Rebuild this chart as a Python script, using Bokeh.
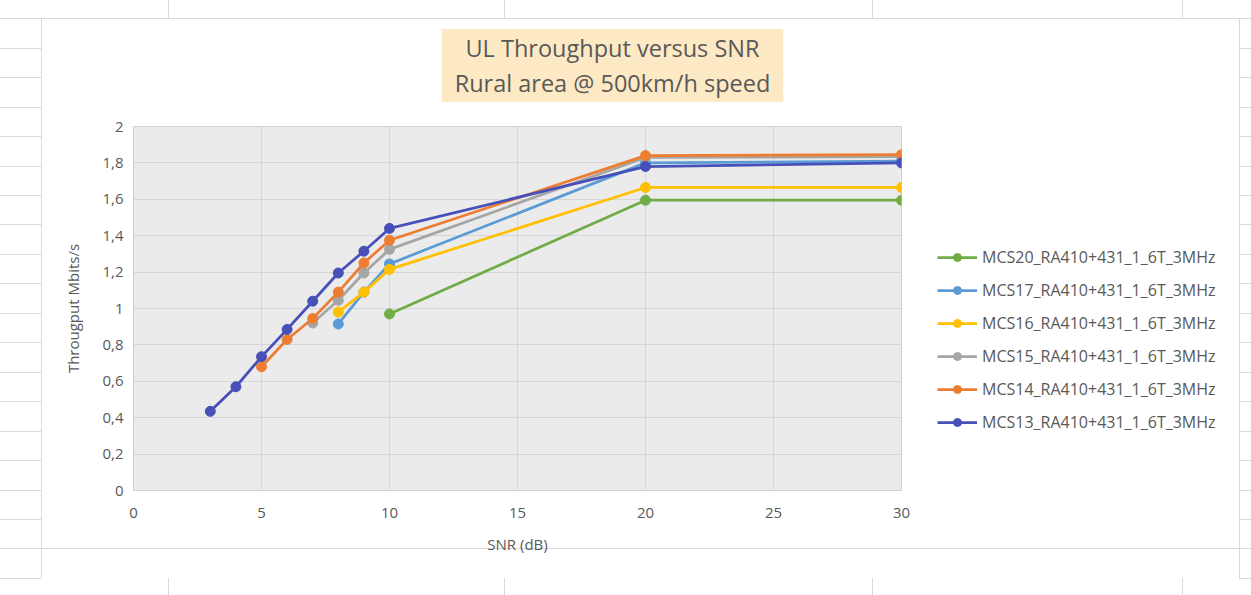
from bokeh.plotting import figure
from bokeh.layouts import row
from bokeh.models import Legend, LegendItem, Label, FixedTicker, Range1d
from bokeh.embed import file_html
from bokeh.resources import INLINE

# ---------------- data ----------------
series_names = [
    "MCS20_RA410+431_1_6T_3MHz",
    "MCS17_RA410+431_1_6T_3MHz",
    "MCS16_RA410+431_1_6T_3MHz",
    "MCS15_RA410+431_1_6T_3MHz",
    "MCS14_RA410+431_1_6T_3MHz",
    "MCS13_RA410+431_1_6T_3MHz",
]
snr_mcs20 = [10, 20, 30]
tp_mcs20 = [0.97, 1.595, 1.595]
snr_mcs17 = [8, 9, 10, 20, 30]
tp_mcs17 = [0.915, 1.09, 1.245, 1.80, 1.81]
snr_mcs16 = [8, 9, 10, 20, 30]
tp_mcs16 = [0.98, 1.09, 1.215, 1.665, 1.665]
snr_mcs15 = [7, 8, 9, 10, 20, 30]
tp_mcs15 = [0.92, 1.045, 1.195, 1.325, 1.83, 1.835]
snr_mcs14 = [5, 6, 7, 8, 9, 10, 20, 30]
tp_mcs14 = [0.68, 0.83, 0.945, 1.09, 1.25, 1.375, 1.84, 1.845]
snr_mcs13 = [3, 4, 5, 6, 7, 8, 9, 10, 20, 30]
tp_mcs13 = [0.435, 0.57, 0.735, 0.885, 1.04, 1.195, 1.315, 1.44, 1.78, 1.80]

x_ticks = [0, 5, 10, 15, 20, 25, 30]
y_ticks = [0, 0.2, 0.4, 0.6, 0.8, 1.0, 1.2, 1.4, 1.6, 1.8, 2.0]
y_tick_labels = ["0", "0,2", "0,4", "0,6", "0,8", "1", "1,2", "1,4", "1,6", "1,8", "2"]

title_text = "UL Throughput versus SNR\nRural area @ 500km/h speed"
x_title = "SNR (dB)"
y_title = "Througput Mbits/s"

colors = ["#70AD47", "#5B9BD5", "#FFC000", "#A5A5A5", "#ED7D31", "#4650B8"]
xs = [snr_mcs20, snr_mcs17, snr_mcs16, snr_mcs15, snr_mcs14, snr_mcs13]
ys = [tp_mcs20, tp_mcs17, tp_mcs16, tp_mcs15, tp_mcs14, tp_mcs13]

FONT = "Open Sans"
TXT = "#595959"

# ---------------- main chart ----------------
W, H = 1251, 595
W1 = 921                      # width of the chart figure, legend figure takes the rest
FL, FR, FT, FB = 133, 901, 126, 490
p = figure(width=W1, height=H, output_backend="svg", toolbar_location=None,
           x_range=Range1d(0, 30), y_range=Range1d(0, 2),
           min_border_left=FL, min_border_right=W1 - FR,
           min_border_top=FT, min_border_bottom=H - FB)
p.background_fill_color = "#EBEBEB"
p.border_fill_alpha = 0
p.outline_line_color = "#D0D0D0"

p.xaxis.ticker = FixedTicker(ticks=x_ticks)
p.yaxis.ticker = FixedTicker(ticks=y_ticks)
p.yaxis.major_label_overrides = {t: l for t, l in zip(y_ticks, y_tick_labels)}
p.xgrid.ticker = FixedTicker(ticks=x_ticks)
p.ygrid.ticker = FixedTicker(ticks=y_ticks)
p.grid.grid_line_color = "#D6D6D6"
p.grid.grid_line_width = 1

for ax in (p.xaxis, p.yaxis):
    ax.axis_line_color = None
    ax.major_tick_line_color = None
    ax.minor_tick_line_color = None
    ax.major_tick_out = 0
    ax.major_tick_in = 0
    ax.major_label_text_font = FONT
    ax.major_label_text_font_size = "15px"
    ax.major_label_text_color = TXT
    ax.axis_label_text_font = FONT
    ax.axis_label_text_font_size = "15px"
    ax.axis_label_text_font_style = "normal"
    ax.axis_label_text_color = TXT

p.xaxis.axis_label = x_title
p.yaxis.axis_label = y_title
p.xaxis.major_label_standoff = 17
p.xaxis.axis_label_standoff = 13
p.yaxis.major_label_standoff = 10
p.yaxis.axis_label_standoff = 16

for c, x, y in zip(colors, xs, ys):
    p.line(x, y, line_color=c, line_width=2.75)
    p.scatter(x, y, marker="circle", size=10, fill_color=c, line_color=c)

# title box, placed in the panel above the plot frame
title = Label(x=612 - FL, y=FT - 65, x_units="screen", y_units="screen",
              text=title_text, text_align="center", text_baseline="middle",
              text_font=FONT, text_font_size="23.5px", text_color=TXT,
              text_line_height=1.09,
              background_fill_color="#FDE9C4",
              padding=dict(left=13, right=13, top=3, bottom=3))
p.add_layout(title, "above")

# ---------------- legend panel ----------------
# (its frame is aligned with the chart's frame by the row layout; the series
#  are given to it only so that the legend can draw their samples, and they lie
#  outside its ranges)
W2 = W - W1
q = figure(width=W2, height=H, output_backend="svg", toolbar_location=None,
           x_axis_type=None, y_axis_type=None,
           x_range=Range1d(100, 101), y_range=Range1d(100, 101), min_border=0)
q.outline_line_color = None
q.background_fill_alpha = 0
q.border_fill_alpha = 0

items = []
for name, c, x, y in zip(series_names, colors, xs, ys):
    lr = q.line(x, y, line_color=c, line_width=2.75)
    sr = q.scatter(x, y, marker="circle", size=10, fill_color=c, line_color=c)
    items.append(LegendItem(label=name, renderers=[lr, sr]))

legend = Legend(items=items, location=(937 - W1, FB - 433), padding=0, margin=0,
                glyph_width=40, glyph_height=20, label_height=20, spacing=11,
                label_standoff=5, border_line_color=None, background_fill_alpha=0,
                label_text_font=FONT, label_text_font_size="16px", label_text_color=TXT)
q.add_layout(legend, "center")

# spreadsheet cell lines and chart-area border, painted as CSS background of the page layout
SHEET = "#D9D9D9"
rects = []  # (x, y, w, h) in pixels
row0, row_h = 18.3, 29.45
for k in range(21):
    yy = round(row0 + k * row_h)
    if k in (0, 18):
        rects.append((0, yy, W, 1))
    else:
        rects.append((0, yy, 41, 1))
        rects.append((1239, yy, W - 1239, 1))
for xx in (168, 504, 872, 1182):
    rects.append((xx, 0, 1, 18))
    rects.append((xx, 578, 1, H - 578))
rects.append((41, 18, 1, 560))
rects.append((1239, 18, 1, 560))

grad = f"linear-gradient({SHEET},{SHEET})"
layout = row(p, q, spacing=0)
layout.styles = {
    "background-color": "white",
    "background-image": ", ".join([grad] * len(rects)),
    "background-position": ", ".join(f"{x}px {y}px" for x, y, w, h in rects),
    "background-size": ", ".join(f"{w}px {h}px" for x, y, w, h in rects),
    "background-repeat": "no-repeat",
}

open("out.html", "w").write(file_html(layout, INLINE))
